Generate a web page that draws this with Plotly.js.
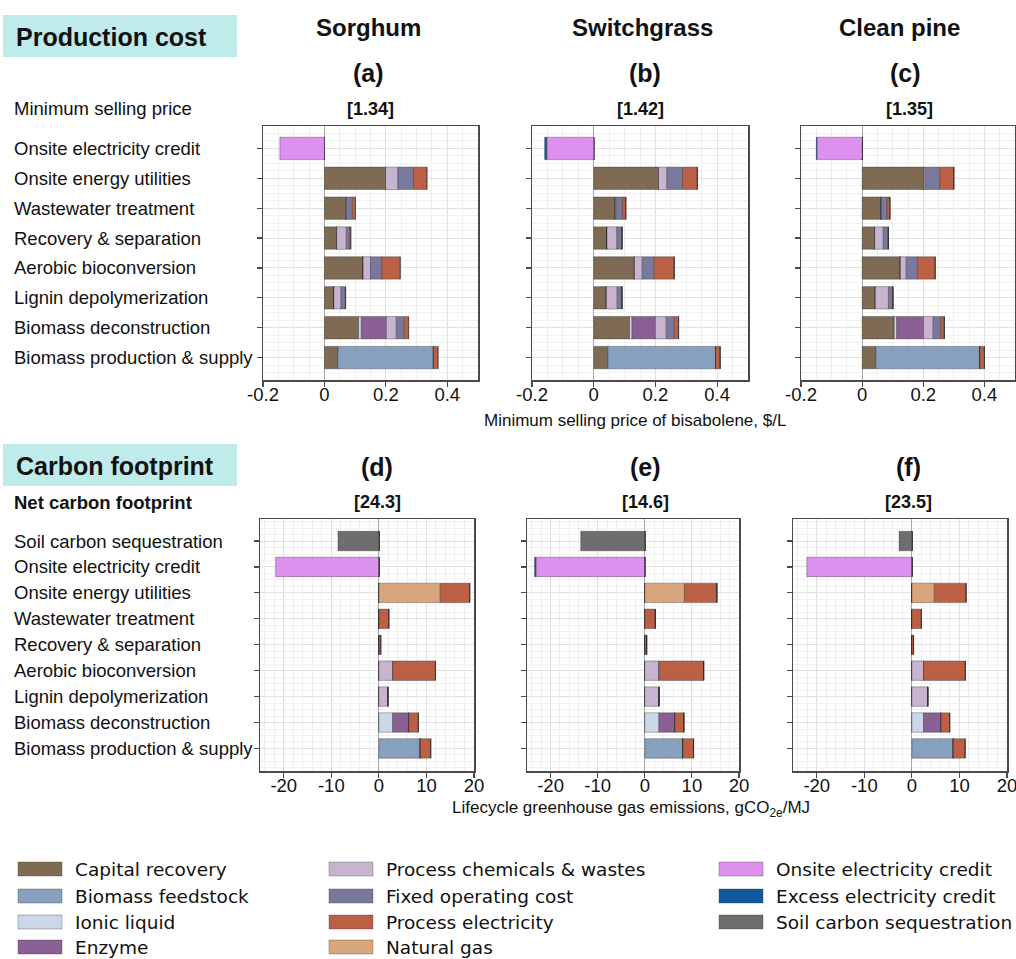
<!DOCTYPE html>
<html><head><meta charset="utf-8">
<script src="https://cdn.plot.ly/plotly-3.0.1.min.js"></script>
<style>html,body{margin:0;padding:0;background:#fff}#chart{width:1016px;height:959px}</style>
</head><body><div id="chart"></div>
<script>
// ---------- DATA ----------
const seriesNames = ['Capital recovery','Biomass feedstock','Ionic liquid','Enzyme','Process chemicals & wastes',
  'Fixed operating cost','Natural gas','Process electricity','Onsite electricity credit','Excess electricity credit','Soil carbon sequestration'];
const seriesColors = ['#7f6b53','#86a0be','#cbd8e8','#8a6094','#c9b4cf','#78799c','#d8a67c','#bb6044','#de90ef','#105aa0','#6e6e6e'];
const legendOrder = ['Capital recovery','Biomass feedstock','Ionic liquid','Enzyme',
  'Process chemicals & wastes','Fixed operating cost','Process electricity','Natural gas',
  'Onsite electricity credit','Excess electricity credit','Soil carbon sequestration'];

// bottom -> top
const costCategories = ['Biomass production & supply','Biomass deconstruction','Lignin depolymerization','Aerobic bioconversion',
  'Recovery & separation','Wastewater treatment','Onsite energy utilities','Onsite electricity credit'];
const ghgCategories = costCategories.concat(['Soil carbon sequestration']);

const feedstocks = ['Sorghum','Switchgrass','Clean pine'];
const costLetters = ['(a)','(b)','(c)'];
const ghgLetters = ['(d)','(e)','(f)'];
const costTotals = ['[1.34]','[1.42]','[1.35]'];
const ghgTotals = ['[24.3]','[14.6]','[23.5]'];

// Minimum selling price contributions, $/L (rows follow seriesNames, columns follow costCategories)
const costSorghum = [
  [0.044,0.111,0.031,0.126,0.040,0.069,0.199,0],
  [0.311,0,0,0,0,0,0,0],
  [0,0.009,0,0,0,0,0,0],
  [0,0.082,0,0,0,0,0,0],
  [0,0.032,0.023,0.024,0.031,0.003,0.040,0],
  [0,0.026,0.014,0.037,0.012,0.019,0.051,0],
  [0,0,0,0,0,0,0,0],
  [0.015,0.014,0.001,0.060,0.003,0.010,0.044,0],
  [0,0,0,0,0,0,0,-0.145],
  [0,0,0,0,0,0,0,0],
  [0,0,0,0,0,0,0,0]
];
const costSwitchgrass = [
  [0.046,0.116,0.041,0.132,0.043,0.070,0.210,0],
  [0.349,0,0,0,0,0,0,0],
  [0,0.008,0,0,0,0,0,0],
  [0,0.076,0,0,0,0,0,0],
  [0,0.035,0.035,0.025,0.032,0.003,0.027,0],
  [0,0.026,0.015,0.039,0.016,0.020,0.051,0],
  [0,0,0,0,0,0,0,0],
  [0.015,0.014,0.001,0.065,0.001,0.011,0.048,0],
  [0,0,0,0,0,0,0,-0.152],
  [0,0,0,0,0,0,0,-0.007],
  [0,0,0,0,0,0,0,0]
];
const costCleanPine = [
  [0.045,0.105,0.043,0.125,0.041,0.061,0.201,0],
  [0.340,0,0,0,0,0,0,0],
  [0,0.008,0,0,0,0,0,0],
  [0,0.088,0,0,0,0,0,0],
  [0,0.031,0.043,0.019,0.028,0.002,0.005,0],
  [0,0.025,0.014,0.037,0.016,0.018,0.048,0],
  [0,0,0,0,0,0,0,0],
  [0.015,0.012,0.001,0.058,0.001,0.010,0.046,0],
  [0,0,0,0,0,0,0,-0.148],
  [0,0,0,0,0,0,0,-0.002],
  [0,0,0,0,0,0,0,0]
];

// Lifecycle GHG contributions, gCO2e/MJ (rows follow seriesNames, columns follow ghgCategories)
const ghgSorghum = [
  [0,0,0,0,0,0,0,0,0],
  [8.7,0,0,0,0,0,0,0,0],
  [0,2.9,0,0,0,0,0,0,0],
  [0,3.4,0,0,0,0,0,0,0],
  [0,0,1.9,2.9,0,0,0,0,0],
  [0,0,0,0,0,0,0,0,0],
  [0,0,0,0,0,0,12.9,0,0],
  [2.2,2.0,0,9.0,0.4,2.1,6.2,0,0],
  [0,0,0,0,0,0,0,-21.7,0],
  [0,0,0,0,0,0,0,0,0],
  [0,0,0,0,0,0,0,0,-8.6]
];
const ghgSwitchgrass = [
  [0,0,0,0,0,0,0,0,0],
  [8.1,0,0,0,0,0,0,0,0],
  [0,3.0,0,0,0,0,0,0,0],
  [0,3.4,0,0,0,0,0,0,0],
  [0,0,3.0,3.0,0,0,0,0,0],
  [0,0,0,0,0,0,0,0,0],
  [0,0,0,0,0,0,8.4,0,0],
  [2.25,1.9,0,9.5,0.4,2.25,6.9,0,0],
  [0,0,0,0,0,0,0,-23.1,0],
  [0,0,0,0,0,0,0,-0.3,0],
  [0,0,0,0,0,0,0,0,-13.6]
];
const ghgCleanPine = [
  [0,0,0,0,0,0,0,0,0],
  [8.7,0,0,0,0,0,0,0,0],
  [0,2.45,0,0,0,0,0,0,0],
  [0,3.7,0,0,0,0,0,0,0],
  [0,0,3.35,2.45,0,0,0,0,0],
  [0,0,0,0,0,0,0,0,0],
  [0,0,0,0,0,0,4.7,0,0],
  [2.5,1.8,0,8.8,0.35,2.0,6.7,0,0],
  [0,0,0,0,0,0,0,-22.1,0],
  [0,0,0,0,0,0,0,0,0],
  [0,0,0,0,0,0,0,0,-2.7]
];

const costTickVals = [-0.2,0,0.2,0.4];
const costTickText = ['-0.2','0','0.2','0.4'];
const ghgTickVals = [-20,-10,0,10,20];
const ghgTickText = ['-20','-10','0','10','20'];

// ---------- LAYOUT HELPERS ----------
const W = 1016, H = 959;
const px = v => v / W;
const py = v => 1 - v / H;
const FONT = 'Liberation Sans, Arial, sans-serif';
const LFONT = 'DejaVu Sans, sans-serif';

const panels = [
  {data: costSorghum, cats: costCategories, x: [263,478], y: [126,380]},
  {data: costSwitchgrass, cats: costCategories, x: [532,748], y: [126,380]},
  {data: costCleanPine, cats: costCategories, x: [801,1015], y: [126,380]},
  {data: ghgSorghum, cats: ghgCategories, x: [260,474], y: [519,771]},
  {data: ghgSwitchgrass, cats: ghgCategories, x: [527,739], y: [519,771]},
  {data: ghgCleanPine, cats: ghgCategories, x: [793,1007], y: [519,771]}
];

const traces = [];
const layout = {
  width: W, height: H, margin: {l:0, r:0, t:0, b:0},
  paper_bgcolor: '#fff', plot_bgcolor: '#fff',
  barmode: 'relative', showlegend: false,
  font: {family: FONT, color: '#111'},
  shapes: [], annotations: []
};

panels.forEach((p, i) => {
  const n = i + 1;
  const isCost = i < 3;
  const idx = p.cats.map((c, k) => k);
  p.data.forEach((row, s) => {
    if (row.every(v => v === 0)) return;
    traces.push({
      type: 'bar', orientation: 'h',
      x: row, y: idx, width: 0.75,
      name: seriesNames[s],
      xaxis: 'x' + n, yaxis: 'y' + n,
      marker: {color: seriesColors[s], line: {color: 'rgba(40,40,40,0.35)', width: 1}},
      hoverinfo: 'x+name'
    });
  });
  layout['xaxis' + n] = {
    domain: [px(p.x[0]), px(p.x[1])], anchor: 'y' + n,
    range: isCost ? [-0.2, 0.5] : [-25, 20],
    tickmode: 'array',
    tickvals: isCost ? costTickVals : ghgTickVals,
    ticktext: isCost ? costTickText : ghgTickText,
    ticklabeloverflow: 'allow',
    ticklabelstandoff: -8,
    showline: true, mirror: true, linecolor: '#4a4a4a', linewidth: 1.5,
    ticks: 'outside', ticklen: 5, tickcolor: '#4a4a4a', tickwidth: 1.2,
    showgrid: true, gridcolor: '#e0e0e0', gridwidth: 1,
    zeroline: true, zerolinecolor: '#a8a8a8', zerolinewidth: 1.2,
    minor: {tickmode: 'linear', tick0: 0, dtick: isCost ? 0.05 : 2, showgrid: true, gridcolor: '#efefef', ticks: ''},
    tickfont: {family: FONT, size: 18.5, color: '#111'},
    fixedrange: true
  };
  layout['yaxis' + n] = {
    domain: [py(p.y[1]), py(p.y[0])], anchor: 'x' + n,
    range: isCost ? [-0.75, 7.75] : [-0.87, 8.85],
    tickmode: 'array', tickvals: idx, showticklabels: false,
    showline: true, mirror: true, linecolor: '#4a4a4a', linewidth: 1.5,
    ticks: 'outside', ticklen: 5, tickcolor: '#4a4a4a', tickwidth: 1.2,
    showgrid: true, gridcolor: '#e0e0e0', zeroline: false,
    minor: {tickmode: 'linear', tick0: 0, dtick: 0.25, showgrid: true, gridcolor: '#f1f1f1', ticks: ''},
    fixedrange: true
  };
});

// category labels (left aligned)
costCategories.forEach((c, k) => layout.annotations.push({
  xref: 'paper', yref: 'y1', x: px(12), y: k, xanchor: 'left', yanchor: 'middle',
  text: c, showarrow: false, font: {family: FONT, size: 18.5, color: '#111'}
}));
ghgCategories.forEach((c, k) => layout.annotations.push({
  xref: 'paper', yref: 'y4', x: px(12), y: k, xanchor: 'left', yanchor: 'middle',
  text: c, showarrow: false, font: {family: FONT, size: 18.5, color: '#111'}
}));

function txt(x, y, text, size, bold, anchor, family) {
  layout.annotations.push({
    xref: 'paper', yref: 'paper', x: px(x), y: py(y), xanchor: anchor || 'center', yanchor: 'middle',
    text: bold ? '<b>' + text + '</b>' : text, showarrow: false,
    font: {family: family || FONT, size: size, color: '#111'}
  });
}

// section header boxes
[[15,57,'Production cost'],[444,486,'Carbon footprint']].forEach(b => {
  layout.shapes.push({type: 'rect', xref: 'paper', yref: 'paper', x0: px(3), x1: px(237), y0: py(b[1]), y1: py(b[0]),
    fillcolor: '#bfecea', line: {width: 0}, layer: 'below'});
  txt(14, (b[0] + b[1]) / 2 + 1, b[2], 25, true, 'left');
});

// panel headings
const titleX = [368, 642, 899];
const letterX = [368, 645, 905];
const costValX = [370, 640, 909];
const ghgX = [377, 645, 908];
feedstocks.forEach((f, i) => {
  txt(titleX[i], 28, f, 24, true);
  txt(letterX[i], 73, costLetters[i], 25, true);
  txt(costValX[i], 109, costTotals[i], 18, true);
  txt(ghgX[i], 467, ghgLetters[i], 25, true);
  txt(ghgX[i], 502, ghgTotals[i], 18, true);
});
txt(12, 109, 'Minimum selling price', 18.5, false, 'left');
txt(12, 502, 'Net carbon footprint', 18.5, true, 'left');

// axis titles
txt(635, 420, 'Minimum selling price of bisabolene, $/L', 17, false);
txt(631, 809, 'Lifecycle greenhouse gas emissions, gCO<sub>2e</sub>/MJ', 17, false);

// legend (custom, 3 columns)
const legCols = [{sx: 18, tx: 73}, {sx: 329, tx: 384}, {sx: 719, tx: 774}];
const legRows = [869, 896, 922, 947];
legendOrder.forEach((name, k) => {
  const col = Math.floor(k / 4), row = k % 4;
  const s = seriesNames.indexOf(name);
  const c = legCols[col], y = legRows[row];
  layout.shapes.push({type: 'rect', xref: 'paper', yref: 'paper',
    x0: px(c.sx), x1: px(c.sx + 44), y0: py(y + 7), y1: py(y - 7),
    fillcolor: seriesColors[s], line: {color: 'rgba(40,40,40,0.3)', width: 1}});
  txt(c.tx, y, name, 18.5, false, 'left', LFONT);
});

Plotly.newPlot('chart', traces, layout, {staticPlot: true});
</script></body></html>
